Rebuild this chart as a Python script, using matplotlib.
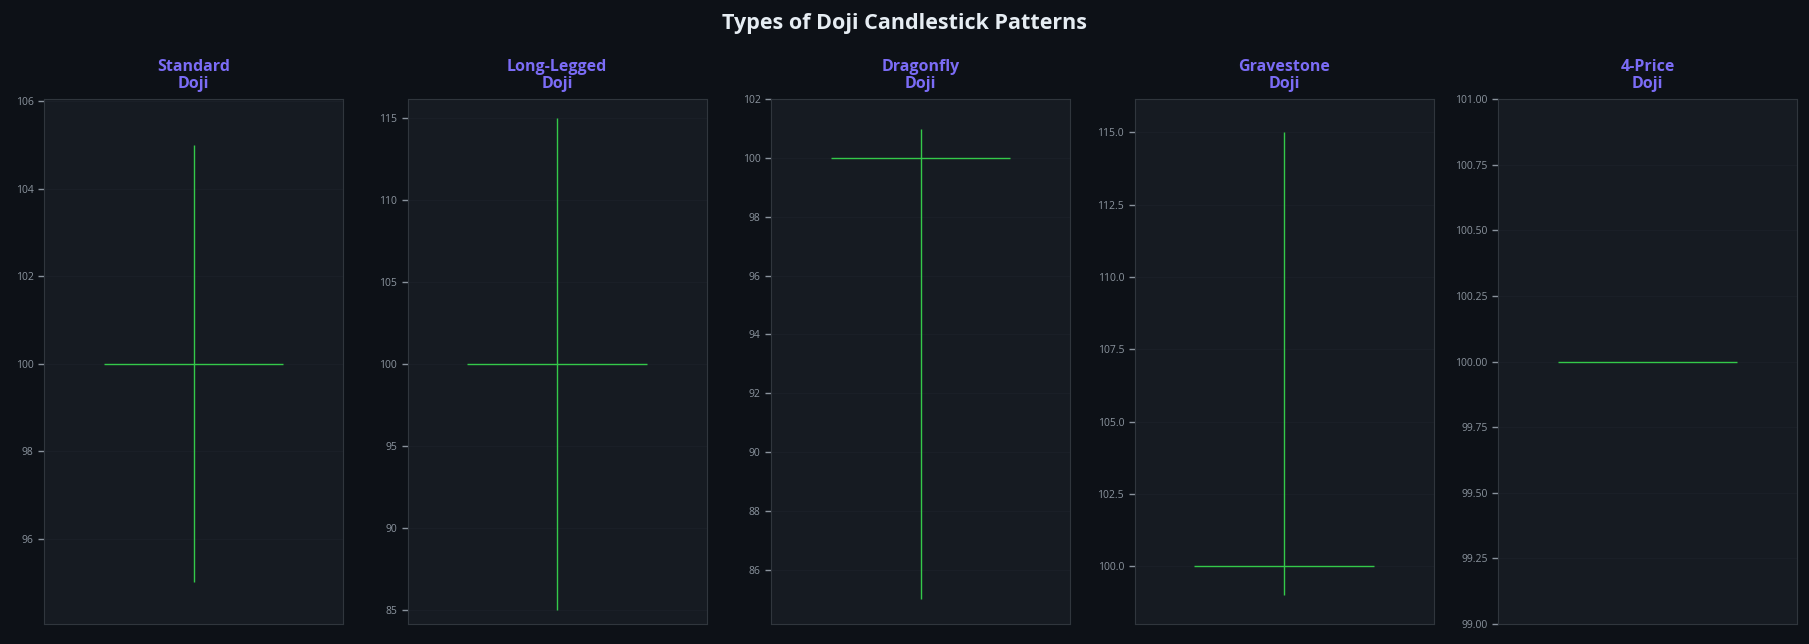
import matplotlib
matplotlib.use("Agg")
import matplotlib.pyplot as plt
from matplotlib import font_manager

bold_ok = [f.name for f in font_manager.fontManager.ttflist if f.weight in (700, 'bold')]
fam = 'Open Sans' if 'Open Sans' in bold_ok else ('Noto Sans' if 'Noto Sans' in bold_ok else 'DejaVu Sans')
plt.rcParams['font.family'] = [fam, 'DejaVu Sans']

# Data
patterns = ["Standard\nDoji", "Long-Legged\nDoji", "Dragonfly\nDoji", "Gravestone\nDoji", "4-Price\nDoji"]
opens = [100, 100, 100, 100, 100]
highs = [105, 115, 101, 115, 100]
lows = [95, 85, 85, 99, 100]
closes = [100, 100, 100, 100, 100]

BG = "#0d1117"
AX_BG = "#161b22"
GREEN = "#34c94a"
PURPLE = "#7b6cf6"
TEXT = "#e6edf3"
TICK = "#8b949e"
SPINE = "#30363d"

W, H = 1809, 644
fig = plt.figure(figsize=(W / 100, H / 100), dpi=100, facecolor=BG)

left0, step, aw = 44, 363.5, 299
top, bottom = 99, 624

for i, name in enumerate(patterns):
    x0 = left0 + i * step
    ax = fig.add_axes([x0 / W, 1 - bottom / H, aw / W, (bottom - top) / H])
    ax.set_facecolor(AX_BG)
    o, h, l, c = opens[i], highs[i], lows[i], closes[i]
    if h != l:
        ax.vlines(0, l, h, color=GREEN, linewidth=1.0)
    ax.hlines(max(o, c), -0.3, 0.3, color=GREEN, linewidth=1.0)
    ax.set_xlim(-0.5, 0.5)
    ax.set_ylim(l * 0.99, h * 1.01)
    ax.set_xticks([])
    ax.grid(True, axis='y', color="#1b2028", linewidth=0.6)
    ax.set_axisbelow(True)
    ax.tick_params(axis='y', colors=TICK, labelsize=7.5, length=4, width=1)
    for sp in ax.spines.values():
        sp.set_color(SPINE)
        sp.set_linewidth(0.8)
    ax.set_title(name, color=PURPLE, fontsize=11.5, fontweight='bold', pad=8, linespacing=1.05)

fig.text(0.5, 1 - 23 / H, "Types of Doji Candlestick Patterns", ha='center', va='center',
         color=TEXT, fontsize=15.5, fontweight='bold')

fig.savefig("out.png", dpi=100, facecolor=BG)
